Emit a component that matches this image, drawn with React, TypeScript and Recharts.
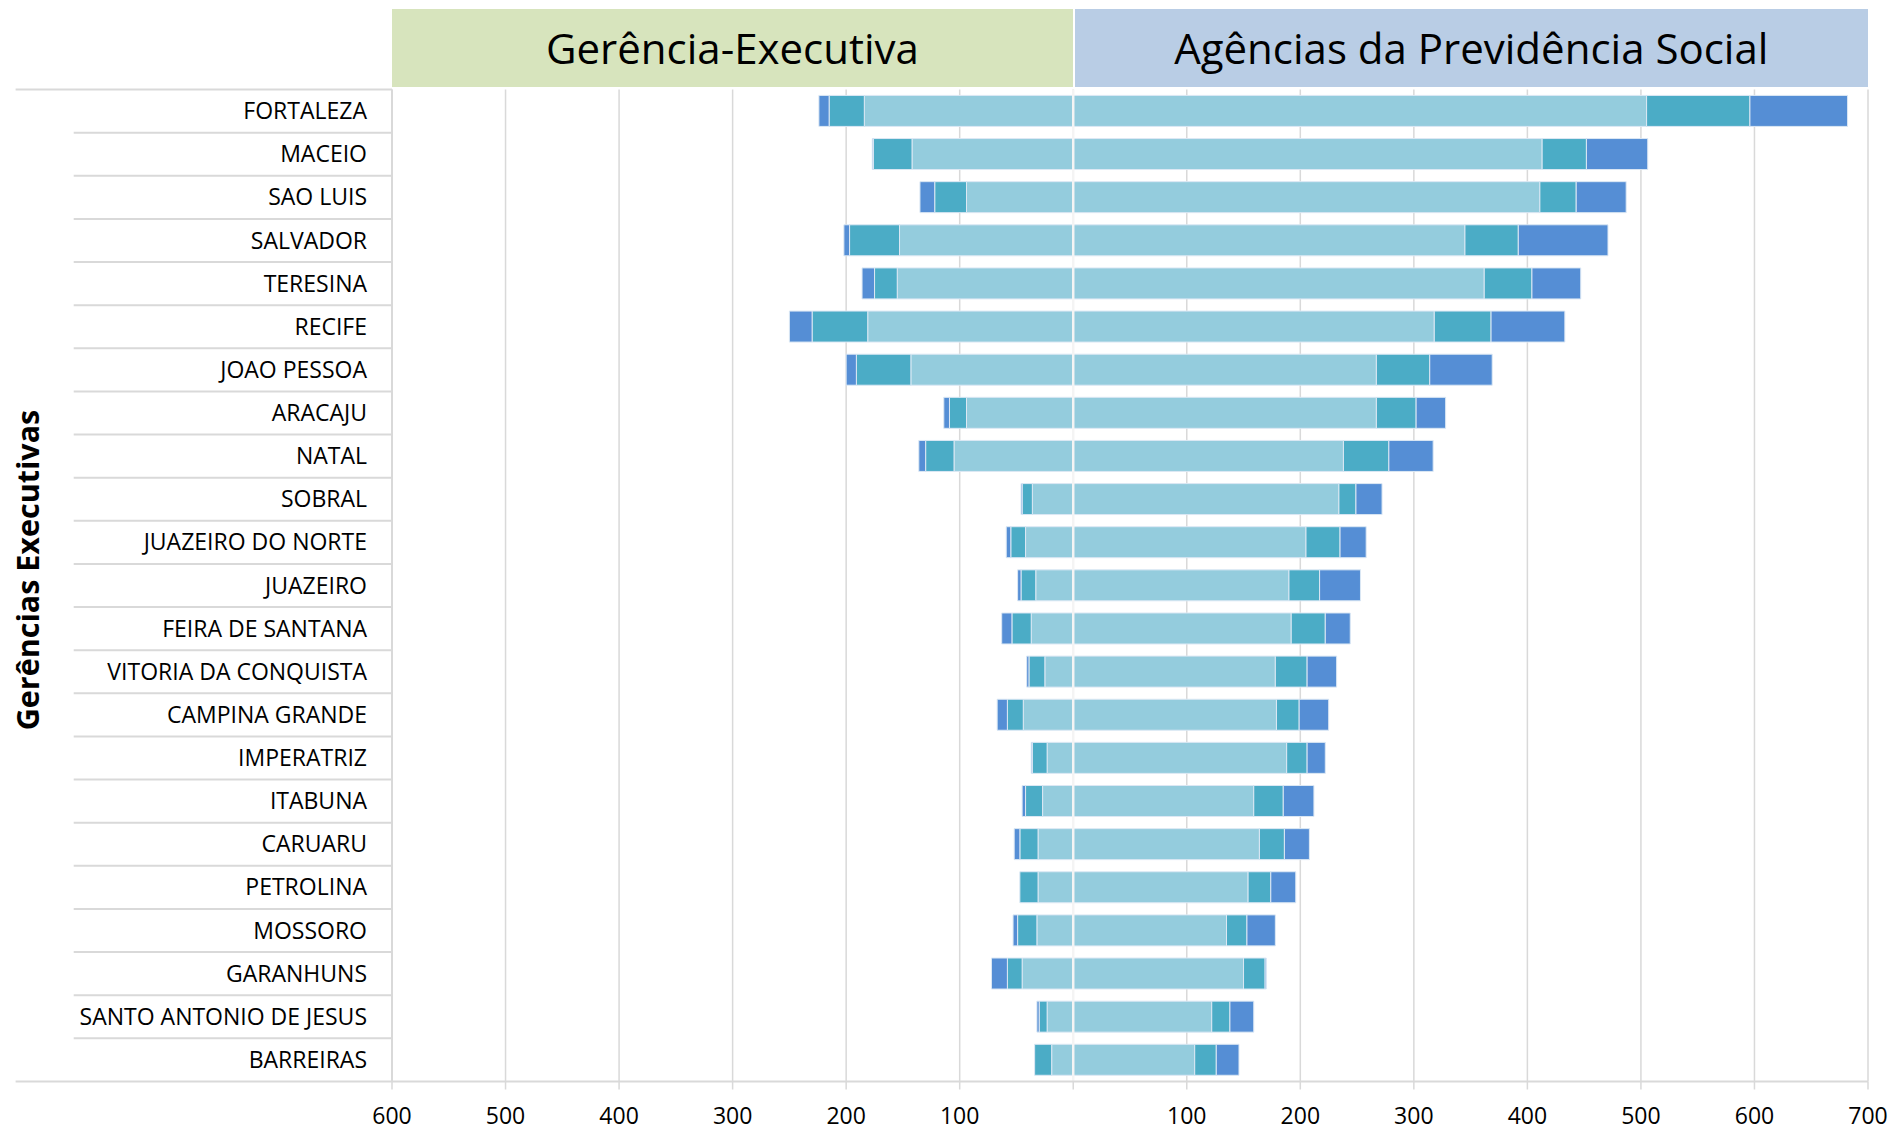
import React from 'react';
import { BarChart, Bar, XAxis, YAxis, CartesianGrid, ReferenceLine } from 'recharts';

const categories = [
  'FORTALEZA', 'MACEIO', 'SAO LUIS', 'SALVADOR', 'TERESINA', 'RECIFE', 'JOAO PESSOA',
  'ARACAJU', 'NATAL', 'SOBRAL', 'JUAZEIRO DO NORTE', 'JUAZEIRO', 'FEIRA DE SANTANA',
  'VITORIA DA CONQUISTA', 'CAMPINA GRANDE', 'IMPERATRIZ', 'ITABUNA', 'CARUARU',
  'PETROLINA', 'MOSSORO', 'GARANHUNS', 'SANTO ANTONIO DE JESUS', 'BARREIRAS',
];

// Gerência-Executiva (left panel)
const gexLight = [184, 142, 94, 153, 155, 181, 143, 94, 105, 36, 42, 33, 37, 25, 44, 23, 27, 31, 31, 32, 45, 23, 19];
const gexTeal = [31, 34, 28, 44, 20, 49, 48, 15, 25, 9, 13, 13, 17, 14, 14, 13, 15, 16, 16, 17, 13, 7, 15];
const gexBlue = [9, 1, 13, 5, 11, 20, 9, 5, 6, 1, 4, 3, 9, 2, 9, 1, 3, 5, 0, 4, 14, 2, 0];

// Agências da Previdência Social (right panel)
const apsLight = [505, 413, 411, 345, 362, 318, 267, 267, 238, 234, 205, 190, 192, 178, 179, 188, 159, 164, 154, 135, 150, 122, 107];
const apsTeal = [91, 39, 32, 47, 42, 50, 47, 35, 40, 15, 30, 27, 30, 28, 20, 18, 26, 22, 20, 18, 19, 16, 19];
const apsBlue = [86, 54, 44, 79, 43, 65, 55, 26, 39, 23, 23, 36, 22, 26, 26, 16, 27, 22, 22, 25, 1, 21, 20];

const xTicks = [-600, -500, -400, -300, -200, -100, 0, 100, 200, 300, 400, 500, 600, 700];

const panelTitles = ['Gerência-Executiva', 'Agências da Previdência Social'];
const axisTitle = 'Gerências Executivas';

const data = categories.map((name, i) => ({
  name,
  gL: -gexLight[i],
  gT: -gexTeal[i],
  gB: -gexBlue[i],
  aL: apsLight[i],
  aT: apsTeal[i],
  aB: apsBlue[i],
}));

const W = 1897;
const H = 1132;
const M_TOP = 89.5;
const M_LEFT = 15;
const M_RIGHT = 29;
const Y_W = 377;
const X_H = 50.5;
const PLOT_H = H - M_TOP - X_H;
const ROW_H = PLOT_H / categories.length;
const GRID = '#D9D9D9';
const FONT = '"Open Sans", "Noto Sans", sans-serif';

const C_LIGHT = '#94CCDD';
const C_TEAL = '#4BACC6';
const C_BLUE = '#558ED5';
const C_STROKE = '#DCE8F4';

const CategoryTick = (props: any) => {
  const { x, y, payload, index } = props;
  const axisX = x + 25;
  const top = y - ROW_H / 2;
  const bottom = y + ROW_H / 2;
  const isFirst = index === 0;
  const isLast = index === categories.length - 1;
  return (
    <g>
      <line x1={isFirst ? M_LEFT + 0.6 : axisX - 318.3} x2={axisX} y1={top} y2={top} stroke={GRID} strokeWidth={2} />
      {isLast && <line x1={M_LEFT + 0.6} x2={axisX} y1={bottom} y2={bottom} stroke={GRID} strokeWidth={2} />}
      <text x={x} y={y} dy="0.35em" textAnchor="end" fontFamily={FONT} fontSize={23} fill="#000">
        {payload.value}
      </text>
    </g>
  );
};

export default function App() {
  const plotLeft = M_LEFT + Y_W;
  const plotRight = W - M_RIGHT;
  const zeroX = plotLeft + (600 / 1300) * (plotRight - plotLeft);
  const headerStyle: React.CSSProperties = {
    position: 'absolute',
    top: 9,
    height: 77.7,
    display: 'flex',
    alignItems: 'center',
    justifyContent: 'center',
    fontFamily: FONT,
    fontSize: 42,
    color: '#000',
    whiteSpace: 'nowrap',
  };
  return (
    <div style={{ position: 'absolute', left: 0, top: 0, width: W, height: H, background: '#fff', overflow: 'hidden' }}>
      <div style={{ ...headerStyle, left: plotLeft, width: zeroX - plotLeft - 0.4, background: '#D7E4BD' }}>
        {panelTitles[0]}
      </div>
      <div style={{ ...headerStyle, left: zeroX + 1.3, width: plotRight - zeroX - 1.3, background: '#B9CDE5' }}>
        {panelTitles[1]}
      </div>
      <div
        style={{
          position: 'absolute',
          left: 27,
          top: 570,
          transform: 'translate(-50%, -50%) rotate(-90deg)',
          fontFamily: FONT,
          fontWeight: 700,
          fontSize: 30.5,
          color: '#000',
          whiteSpace: 'nowrap',
        }}
      >
        {axisTitle}
      </div>
      <BarChart
        width={W}
        height={H}
        data={data}
        layout="vertical"
        stackOffset="sign"
        barCategoryGap="13.7%"
        margin={{ top: M_TOP, right: M_RIGHT, bottom: 0, left: M_LEFT }}
        style={{ position: 'absolute', left: 0, top: 0 }}
      >
        <CartesianGrid horizontal={false} vertical={true} stroke={GRID} strokeWidth={1.5} />
        <XAxis
          type="number"
          domain={[-600, 700]}
          ticks={xTicks}
          allowDataOverflow
          height={X_H}
          axisLine={{ stroke: GRID, strokeWidth: 2 }}
          tickLine={{ stroke: GRID, strokeWidth: 1.5 }}
          tickSize={8}
          tickMargin={18}
          tickFormatter={(v: number) => (v === 0 ? '' : String(Math.abs(v)))}
          tick={{ fontFamily: FONT, fontSize: 23, fill: '#000' }}
        />
        <YAxis
          type="category"
          dataKey="name"
          width={Y_W}
          axisLine={{ stroke: GRID, strokeWidth: 2 }}
          tickLine={false}
          tickSize={0}
          tickMargin={25}
          interval={0}
          tick={<CategoryTick />}
        />
        <Bar dataKey="gL" stackId="s" fill={C_LIGHT} stroke={C_STROKE} strokeWidth={1} isAnimationActive={false} />
        <Bar dataKey="gT" stackId="s" fill={C_TEAL} stroke={C_STROKE} strokeWidth={1} isAnimationActive={false} />
        <Bar dataKey="gB" stackId="s" fill={C_BLUE} stroke={C_STROKE} strokeWidth={1} isAnimationActive={false} />
        <Bar dataKey="aL" stackId="s" fill={C_LIGHT} stroke={C_STROKE} strokeWidth={1} isAnimationActive={false} />
        <Bar dataKey="aT" stackId="s" fill={C_TEAL} stroke={C_STROKE} strokeWidth={1} isAnimationActive={false} />
        <Bar dataKey="aB" stackId="s" fill={C_BLUE} stroke={C_STROKE} strokeWidth={1} isAnimationActive={false} />
        <ReferenceLine x={0} stroke="#F4F4F4" strokeWidth={2.5} />
      </BarChart>
    </div>
  );
}
